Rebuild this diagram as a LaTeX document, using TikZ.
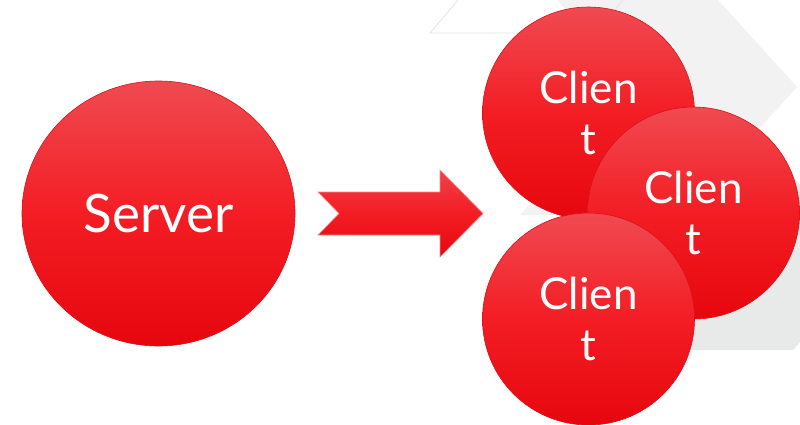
\documentclass[tikz,border=0pt]{standalone}
\usepackage{fontspec}
\setmainfont{Lato}
\usetikzlibrary{shapes.geometric}

\definecolor{redtop}{HTML}{F04A51}
\definecolor{redmid}{HTML}{F31D24}
\definecolor{redbot}{HTML}{E6070D}
\definecolor{redrim}{HTML}{DD1019}
\definecolor{arrowrim}{HTML}{F58A90}
\definecolor{bgpale}{HTML}{F2F2F2}
\definecolor{bgdark}{HTML}{E8E9E9}
\definecolor{bgline}{HTML}{E3E3E3}

\tikzset{
  ball/.style={ellipse, draw=redrim, line width=0.6pt,
    top color=redtop, bottom color=redbot, middle color=redmid,
    text=white, align=center, inner sep=0pt},
  clientball/.style={ball, minimum width=212pt, minimum height=212pt,
    font=\fontsize{44}{51}\selectfont},
  serverball/.style={ball, minimum width=273pt, minimum height=265pt,
    font=\fontsize{53}{60}\selectfont},
  blockarrow/.style={draw=arrowrim, line width=0.6pt,
    top color=redtop!80!redmid, bottom color=redbot, middle color=redmid},
}

\begin{document}
\begin{tikzpicture}[x=1pt, y=-1pt]
  \useasboundingbox (0,0) rectangle (800,424);

  % background chevrons
  \begin{scope}
    \clip (0,0) rectangle (800,424);
    \fill[bgdark] (600,177) -- (793,177) -- (873,263) -- (793,350) -- (600,350) -- cycle;
    \fill[bgpale] (520,-41) -- (681,-41) -- (797,87) -- (681,215) -- (520,215) -- (636,87) -- cycle;
    \draw[bgline, line width=0.8pt] (430,33) -- (470,-14) -- (430,-60) -- (595,-60)
      -- (635,-14) -- (595,33) -- cycle;
  \end{scope}

  % server
  \node[serverball] (server) at (158.5,213.5) {Server};

  % notched block arrow
  \path[blockarrow] (318,192) -- (440,192) -- (440,170) -- (483,213.5)
    -- (440,257) -- (440,235) -- (318,235) -- (339,213.5) -- cycle;

  % clients
  \node[clientball] (c1) at (588.5,113) {Clien\\t};
  \node[clientball] (c2) at (693.5,213) {Clien\\t};
  \node[clientball] (c3) at (588.5,319) {Clien\\t};
\end{tikzpicture}
\end{document}
